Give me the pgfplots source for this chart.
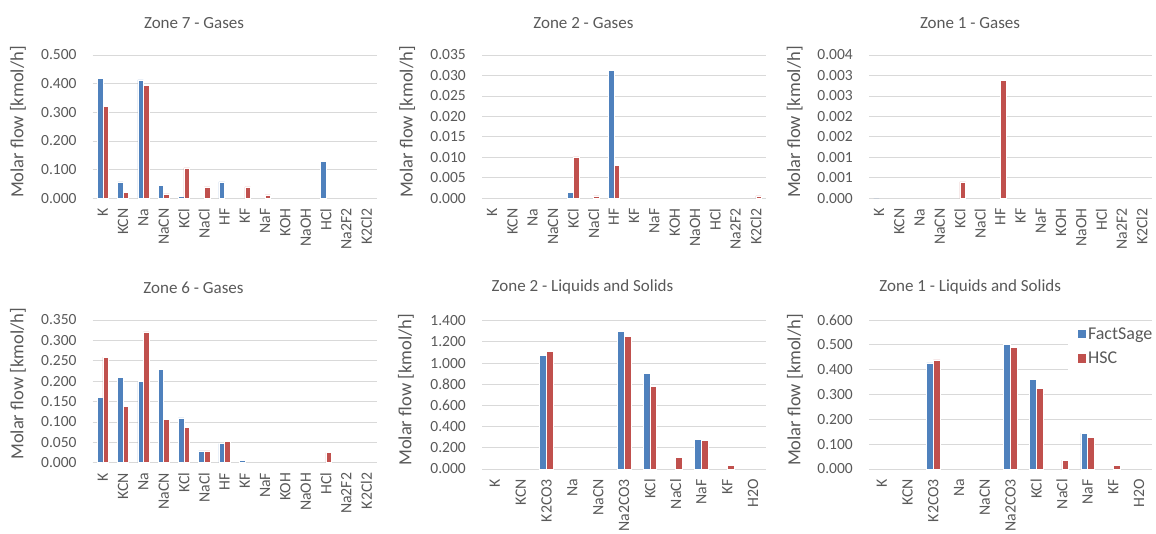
\documentclass[border=0pt]{standalone}
\usepackage{fontspec}
\setmainfont{Carlito}
\usepackage{pgfplots}
\pgfplotsset{compat=1.18}
\definecolor{fsblue}{HTML}{4F81BD}
\definecolor{hscred}{HTML}{C0504D}
\definecolor{txtgray}{HTML}{595959}
\definecolor{gridgray}{HTML}{D9D9D9}

\pgfplotsset{
  mylegend/.style={legend image code/.code={\fill[##1] (0pt,-4.65pt) rectangle (9.3pt,4.65pt);}},
  fs/.style={fill=fsblue, draw=white, line width=0.6pt, mylegend},
  hsc/.style={fill=hscred, draw=white, line width=0.6pt, mylegend},
  zone/.style={
    scale only axis,
    width=284pt,
    height=143.3pt,
    anchor=south west,
    ybar=0pt,
    bar width=5.6pt,
    enlargelimits=false,
    ymin=0,
    scaled y ticks=false,
    axis lines*=left,
    y axis line style={draw=none},
    x axis line style={draw=gridgray, line width=0.8pt},
    major tick length=0pt,
    ymajorgrids,
    grid style={gridgray, line width=0.8pt},
    tick label style={text=txtgray},
    yticklabel style={inner xsep=0pt, font=\fontsize{15.5}{17}\selectfont},
    yticklabel shift=16pt,
    xticklabel style={rotate=90, anchor=east, inner xsep=0pt, font=\fontsize{15.8}{18}\selectfont},
    xticklabel shift=10pt,
    title style={font=\fontsize{17}{20}\selectfont, text=txtgray, anchor=center, yshift=-6pt, at={(axis description cs:0.357,1.223)}},
    ylabel={Molar flow [kmol/h]},
    ylabel style={font=\fontsize{18.5}{20}\selectfont, text=txtgray, anchor=center, at={(axis description cs:-0.263,0.532)}},
    /pgf/number format/assume math mode=true,
  },
  gases/.style={xmin=-0.5, xmax=13.5, xtick={0,1,2,3,4,5,6,7,8,9,10,11,12,13},
    xticklabels={K,KCN,Na,NaCN,KCl,NaCl,HF,KF,NaF,KOH,NaOH,HCl,Na2F2,K2Cl2}},
  liqsol/.style={xmin=-0.5, xmax=10.5, xtick={0,1,2,3,4,5,6,7,8,9,10},
    xticklabels={K,KCN,K2CO3,Na,NaCN,Na2CO3,KCl,NaCl,NaF,KF,H2O}, bar width=6.8pt},
}

\begin{document}
\begin{tikzpicture}
\useasboundingbox (0,0) rectangle (1156pt,-534pt);

% Zone 7 - Gases
\begin{axis}[zone, gases, at={(92.7pt,-198.3pt)}, height=143.3pt,
  ymax=0.5, ytick={0,0.1,0.2,0.3,0.4,0.5},
  yticklabels={0.000,0.100,0.200,0.300,0.400,0.500},
  title={Zone 7 - Gases}]
\addplot[fs] coordinates {(0,0.417)(1,0.057)(2,0.413)(3,0.045)(4,0.008)(6,0.057)(11,0.130)};
\addplot[hsc] coordinates {(0,0.320)(1,0.021)(2,0.393)(3,0.015)(4,0.106)(5,0.040)(7,0.040)(8,0.012)};
\end{axis}

% Zone 2 - Gases
\begin{axis}[zone, gases, at={(482pt,-198.3pt)}, height=143.3pt,
  ymax=0.035, ytick={0,0.005,0.01,0.015,0.02,0.025,0.03,0.035},
  yticklabels={0.000,0.005,0.010,0.015,0.020,0.025,0.030,0.035},
  title={Zone 2 - Gases}]
\addplot[fs] coordinates {(4,0.0015)(6,0.0312)};
\addplot[hsc] coordinates {(4,0.0101)(5,0.0006)(6,0.0081)(13,0.0006)};
\end{axis}

% Zone 1 - Gases
\begin{axis}[zone, gases, at={(869pt,-198.3pt)}, width=283pt, height=143.3pt,
  ymax=0.0035, ytick={0,0.0005,0.001,0.0015,0.002,0.0025,0.003,0.0035},
  yticklabels={0.000,0.001,0.001,0.002,0.002,0.003,0.003,0.004},
  title={Zone 1 - Gases}]
\addplot[fill=fsblue, draw=none] coordinates {(0,0)};
\addplot[hsc] coordinates {(4,0.0004)(6,0.00287)};
\end{axis}

% Zone 6 - Gases
\begin{axis}[zone, gases, at={(92.7pt,-462.7pt)}, height=142.7pt,
  ymax=0.35, ytick={0,0.05,0.1,0.15,0.2,0.25,0.3,0.35},
  yticklabels={0.000,0.050,0.100,0.150,0.200,0.250,0.300,0.350},
  title={Zone 6 - Gases},
  ylabel style={at={(axis description cs:-0.263,0.552)}},
  title style={at={(axis description cs:0.355,1.229)}}]
\addplot[fs] coordinates {(0,0.160)(1,0.210)(2,0.199)(3,0.229)(4,0.110)(5,0.029)(6,0.047)(7,0.005)};
\addplot[hsc] coordinates {(0,0.259)(1,0.138)(2,0.321)(3,0.106)(4,0.086)(5,0.029)(6,0.052)(11,0.025)};
\end{axis}

% Zone 2 - Liquids and Solids
\begin{axis}[zone, liqsol, at={(482pt,-469pt)}, height=148.3pt,
  ymax=1.4, ytick={0,0.2,0.4,0.6,0.8,1.0,1.2,1.4},
  yticklabels={0.000,0.200,0.400,0.600,0.800,1.000,1.200,1.400},
  title={Zone 2 - Liquids and Solids},
  ylabel style={at={(axis description cs:-0.268,0.533)}},
  title style={at={(axis description cs:0.354,1.225)}}]
\addplot[fs] coordinates {(2,1.075)(5,1.296)(6,0.899)(8,0.283)};
\addplot[hsc] coordinates {(2,1.113)(5,1.252)(6,0.780)(7,0.113)(8,0.267)(9,0.031)};
\end{axis}

% Zone 1 - Liquids and Solids
\begin{axis}[zone, liqsol, at={(869pt,-469pt)}, width=283pt, height=149pt,
  ymax=0.6, ytick={0,0.1,0.2,0.3,0.4,0.5,0.6},
  yticklabels={0.000,0.100,0.200,0.300,0.400,0.500,0.600},
  title={Zone 1 - Liquids and Solids},
  ylabel style={at={(axis description cs:-0.262,0.53)}},
  title style={at={(axis description cs:0.358,1.22)}},
  legend style={at={(axis description cs:0.703,0.985)}, anchor=north west,
    draw=none, fill=white, inner xsep=9pt, inner ysep=4pt,
    font=\fontsize{18}{20}\selectfont, text=txtgray, row sep=9pt,
    nodes={inner sep=1pt}},
  legend cell align=left]
\addplot[fs] coordinates {(2,0.427)(5,0.501)(6,0.362)(8,0.144)};
\addplot[hsc] coordinates {(2,0.439)(5,0.491)(6,0.326)(7,0.036)(8,0.128)(9,0.013)};
\legend{FactSage,HSC}
\end{axis}

\end{tikzpicture}
\end{document}
